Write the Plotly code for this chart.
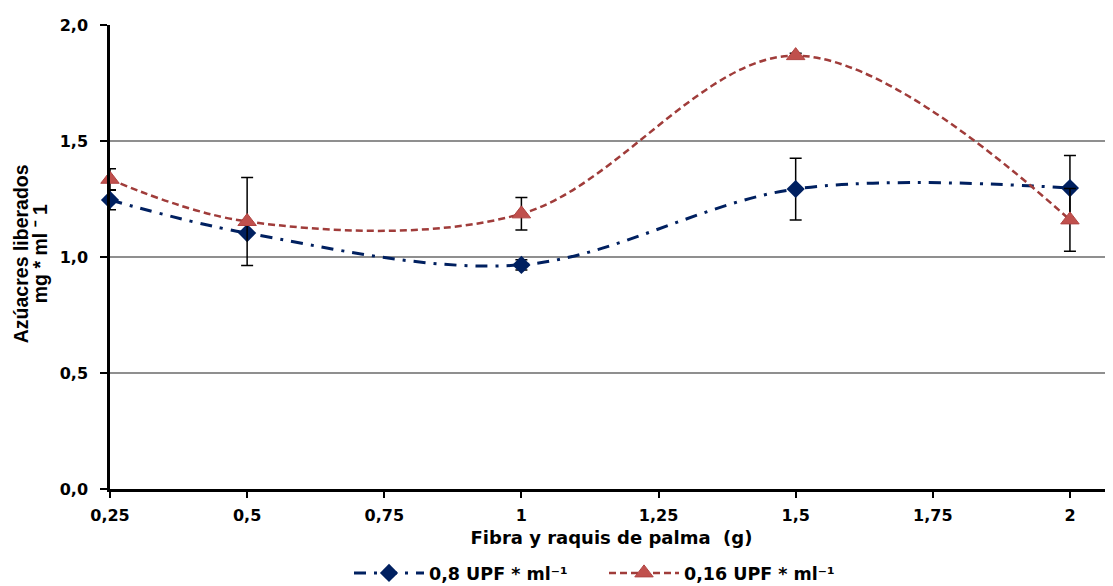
import plotly.graph_objects as go

x_vals = [0.25, 0.5, 1.0, 1.5, 2.0]
blue_y = [1.246, 1.103, 0.966, 1.293, 1.297]
blue_err = [0.042, 0.0, 0.022, 0.133, 0.14]
red_y = [1.335, 1.153, 1.186, 1.868, 1.16]
red_err = [0.045, 0.19, 0.07, 0.01, 0.135]

tick_vals = [0.25, 0.5, 0.75, 1.0, 1.25, 1.5, 1.75, 2.0]
tick_text = ["0,25", "0,5", "0,75", "1", "1,25", "1,5", "1,75", "2"]
y_tick_vals = [0, 0.5, 1.0, 1.5, 2.0]

series_names = ["0,8 UPF * ml\u207b\u00b9", "0,16 UPF * ml\u207b\u00b9"]
x_title = "Fibra y raquis de palma  (g)"
y_title_lines = ["Azúacres liberados", "mg * ml \u207b 1"]

WIDE = "DejaVu Sans, sans-serif"
NARROW = "Liberation Sans, Arial, sans-serif"

# page body has an 8px margin; size the figure so it ends at the window edge
W, H = 1105, 578
ML, MR, MT, MB = 102, 0, 17, 97
PW = W - ML - MR
PH = H - MT - MB

fig = go.Figure()
fig.add_trace(go.Scatter(
    x=x_vals, y=blue_y, name=series_names[0], mode="lines+markers", cliponaxis=False,
    line=dict(color="#002060", width=3, dash="12px,8px,3px,8px", shape="spline", smoothing=1.0),
    marker=dict(symbol="diamond", size=14, color="#002060"),
    error_y=dict(type="data", array=blue_err, visible=True, color="black", thickness=1.5, width=6),
))
fig.add_trace(go.Scatter(
    x=x_vals, y=red_y, name=series_names[1], mode="lines+markers", cliponaxis=False,
    line=dict(color="#A03C3A", width=2.5, dash="7px,4px", shape="spline", smoothing=1.0),
    marker=dict(symbol="triangle-up", size=16, color="#C0504D", line=dict(color="#B04442", width=1)),
    error_y=dict(type="data", array=red_err, visible=True, color="black", thickness=1.5, width=6),
))

annots = []
for txt, px in zip(y_title_lines, [13, 32]):
    annots.append(dict(
        text="<b>" + txt + "</b>", textangle=-90, showarrow=False,
        xref="paper", yref="paper", x=(px - ML) / PW, y=0.506,
        xanchor="center", yanchor="middle",
        font=dict(family=NARROW, size=19.5, color="black"),
    ))

fig.update_layout(
    width=W, height=H,
    margin=dict(l=ML, r=MR, t=MT, b=MB, autoexpand=False),
    paper_bgcolor="white", plot_bgcolor="white",
    separators=",.",
    font=dict(family=WIDE, size=16, color="black"),
    showlegend=True,
    legend=dict(orientation="h", x=(349 - 110) / PW, xanchor="left", y=-84 / PH, yanchor="middle",
                font=dict(family=WIDE, size=17.5, color="black", weight="bold"),
                itemwidth=70, entrywidth=170),
    xaxis=dict(
        range=[0.25, 2.0785], tickvals=tick_vals, ticktext=tick_text, automargin=False,
        showgrid=False, zeroline=False, showline=True, linecolor="black", linewidth=2.5,
        ticks="outside", ticklen=6, tickwidth=1.5, tickcolor="black", ticklabelstandoff=4,
        tickfont=dict(family=WIDE, size=16, color="black", weight="bold"),
        title=dict(text="<b>" + x_title + "</b>", standoff=8,
                   font=dict(family=WIDE, size=18, color="black")),
    ),
    yaxis=dict(
        range=[0, 2.0], tickvals=y_tick_vals, tickformat=".1f", automargin=False,
        showgrid=True, gridcolor="#8f8f8f", gridwidth=1.8, zeroline=False,
        showline=True, linecolor="black", linewidth=2.5,
        ticks="outside", ticklen=7, tickwidth=1.5, tickcolor="black", ticklabelstandoff=9,
        tickfont=dict(family=WIDE, size=16, color="black", weight="bold"),
    ),
    annotations=annots,
)

fig.write_html("out.html")
